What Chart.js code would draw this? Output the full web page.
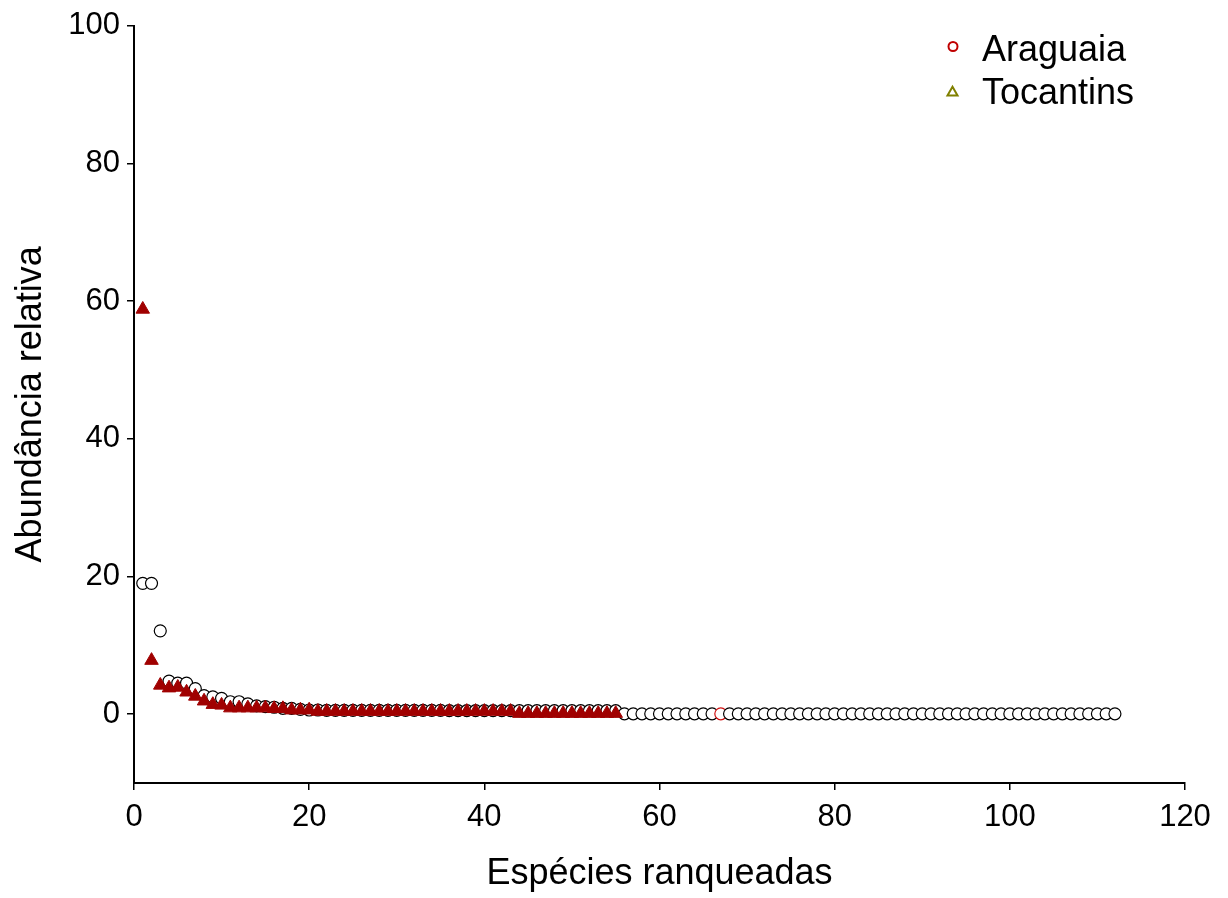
<!DOCTYPE html>
<html>
<head>
<meta charset="utf-8">
<script src="https://cdn.jsdelivr.net/npm/chart.js@4/dist/chart.umd.min.js"></script>
<style>
  html, body { margin: 0; padding: 0; background: #ffffff; }
  #wrap { width: 1228px; height: 898px; }
</style>
</head>
<body>
<div id="wrap"><canvas id="c" width="1228" height="898"></canvas></div>
<script>
// ---- Data ----
const seriesNames = ["Araguaia", "Tocantins"];

// Araguaia: 112 ranked species (relative abundance, %)
const araguaia = [
  19.0, 19.0, 12.1, 4.8, 4.5, 4.5, 3.7, 2.7, 2.5, 2.3,
  1.8, 1.8, 1.5, 1.2, 1.1, 1.0, 0.85, 0.85, 0.7, 0.6,
  0.6, 0.55, 0.55, 0.55, 0.55, 0.55, 0.55, 0.55, 0.55, 0.55,
  0.55, 0.55, 0.55, 0.55, 0.55, 0.5, 0.5, 0.5, 0.5, 0.5,
  0.5, 0.5, 0.5, 0.5, 0.5, 0.5, 0.5, 0.5, 0.5, 0.5,
  0.5, 0.5, 0.5, 0.5, 0.5, 0.05, 0.05, 0.05, 0.05, 0.05,
  0.05, 0.05, 0.05, 0.05, 0.05, 0.05, 0.05, 0.05, 0.05, 0.05,
  0.05, 0.05, 0.05, 0.05, 0.05, 0.05, 0.05, 0.05, 0.05, 0.05,
  0.05, 0.05, 0.05, 0.05, 0.05, 0.05, 0.05, 0.05, 0.05, 0.05,
  0.05, 0.05, 0.05, 0.05, 0.05, 0.05, 0.05, 0.05, 0.05, 0.05,
  0.05, 0.05, 0.05, 0.05, 0.05, 0.05, 0.05, 0.05, 0.05, 0.05,
  0.05, 0.05
];

// Tocantins: 55 ranked species (relative abundance, %)
const tocantins = [
  58.8, 7.8, 4.2, 3.8, 3.9, 3.2, 2.6, 1.9, 1.4, 1.3,
  0.9, 0.9, 0.9, 0.9, 0.9, 0.8, 0.8, 0.6, 0.6, 0.6,
  0.4, 0.4, 0.4, 0.4, 0.4, 0.4, 0.4, 0.4, 0.4, 0.4,
  0.4, 0.4, 0.4, 0.4, 0.4, 0.4, 0.4, 0.4, 0.4, 0.4,
  0.4, 0.4, 0.4, 0.1, 0.1, 0.1, 0.1, 0.1, 0.1, 0.1,
  0.1, 0.1, 0.1, 0.1, 0.1
];

// rank of the one Araguaia point drawn with a red outline in the reference
const araguaiaRedRank = 67;

const xTicks = [0, 20, 40, 60, 80, 100, 120];
const yTicks = [0, 20, 40, 60, 80, 100];
const xTitle = "Espécies ranqueadas";
const yTitle = "Abundância relativa";

// ---- Chart ----
const FONT = "'Liberation Sans', Arial, Helvetica, sans-serif";

const araguaiaPts = araguaia.map((v, i) => ({ x: i + 1, y: v }));
const tocantinsPts = tocantins.map((v, i) => ({ x: i + 1, y: v }));
const araguaiaBorder = araguaia.map((v, i) => (i + 1 === araguaiaRedRank ? '#d01010' : '#000000'));

const legendPlugin = {
  id: 'customLegend',
  afterDraw(chart) {
    const ctx = chart.ctx;
    ctx.save();
    const items = [
      { text: seriesNames[0], style: 'circle', stroke: '#c00000', x: 953, y: 46.5, r: 4.5, baseline: 61 },
      { text: seriesNames[1], style: 'triangle', stroke: '#808000', x: 952.5, y: 92.5, r: 5.8, baseline: 104 }
    ];
    items.forEach(it => {
      ctx.fillStyle = '#ffffff';
      ctx.strokeStyle = it.stroke;
      ctx.lineWidth = 2;
      if (Chart.helpers && Chart.helpers.drawPoint) {
        Chart.helpers.drawPoint(ctx, { pointStyle: it.style, radius: it.r, borderWidth: 2, rotation: 0 }, it.x, it.y);
      } else {
        ctx.beginPath();
        if (it.style === 'circle') {
          ctx.arc(it.x, it.y, it.r, 0, Math.PI * 2);
        } else {
          ctx.moveTo(it.x, it.y - it.r);
          ctx.lineTo(it.x + it.r * 0.866, it.y + it.r * 0.5);
          ctx.lineTo(it.x - it.r * 0.866, it.y + it.r * 0.5);
          ctx.closePath();
        }
        ctx.fill();
        ctx.stroke();
      }
      ctx.fillStyle = '#000000';
      ctx.font = '36px ' + FONT;
      ctx.textAlign = 'left';
      ctx.textBaseline = 'alphabetic';
      ctx.fillText(it.text, 982, it.baseline);
    });
    ctx.restore();
  }
};

new Chart(document.getElementById('c'), {
  type: 'scatter',
  data: {
    datasets: [
      {
        label: seriesNames[1],
        data: tocantinsPts,
        pointStyle: 'triangle',
        pointRadius: 7.8,
        pointHoverRadius: 7.8,
        pointBackgroundColor: '#a00000',
        pointBorderColor: '#a00000',
        pointBorderWidth: 1,
        order: 1
      },
      {
        label: seriesNames[0],
        data: araguaiaPts,
        pointStyle: 'circle',
        pointRadius: 6,
        pointHoverRadius: 6,
        pointBackgroundColor: '#ffffff',
        pointBorderColor: araguaiaBorder,
        pointBorderWidth: 1.2,
        order: 2
      }
    ]
  },
  options: {
    responsive: false,
    animation: false,
    devicePixelRatio: 1,
    layout: { padding: { left: 0, top: 25, right: 43, bottom: 0 } },
    plugins: {
      legend: { display: false },
      tooltip: { enabled: false }
    },
    scales: {
      x: {
        type: 'linear',
        min: 0,
        max: 120,
        afterBuildTicks: s => { s.ticks = xTicks.map(v => ({ value: v })); },
        afterFit: s => { s.height = 898 - 783; },
        ticks: {
          color: '#000',
          font: { family: FONT, size: 31 },
          padding: 9,
          maxRotation: 0,
          autoSkip: false
        },
        grid: {
          display: true,
          drawOnChartArea: false,
          drawTicks: true,
          tickLength: 7,
          color: '#000',
          lineWidth: 1.5
        },
        border: { display: true, color: '#000', width: 2 },
        title: {
          display: true,
          text: xTitle,
          color: '#000',
          font: { family: FONT, size: 36 },
          padding: { top: 0, bottom: 2 }
        }
      },
      y: {
        type: 'linear',
        min: -10,
        max: 100,
        afterBuildTicks: s => { s.ticks = yTicks.map(v => ({ value: v })); },
        afterFit: s => { s.width = 134; },
        ticks: {
          color: '#000',
          font: { family: FONT, size: 31 },
          padding: 7,
          autoSkip: false
        },
        grid: {
          display: true,
          drawOnChartArea: false,
          drawTicks: true,
          tickLength: 7,
          color: '#000',
          lineWidth: 1.5
        },
        border: { display: true, color: '#000', width: 2 },
        title: {
          display: true,
          text: yTitle,
          color: '#000',
          font: { family: FONT, size: 36 },
          padding: { top: 9, bottom: 0 }
        }
      }
    }
  },
  plugins: [legendPlugin]
});
</script>
</body>
</html>
